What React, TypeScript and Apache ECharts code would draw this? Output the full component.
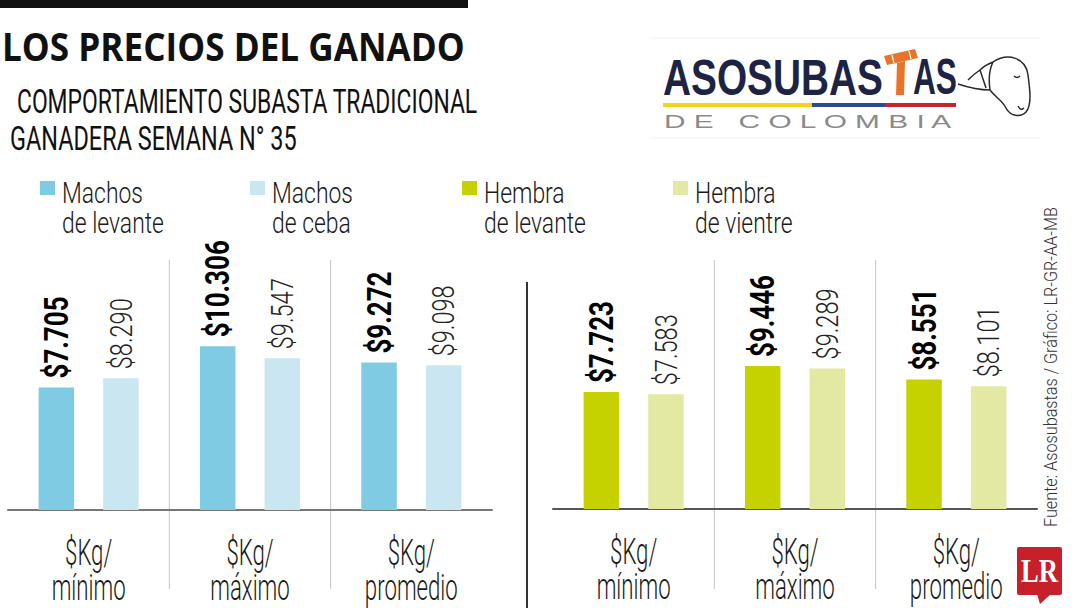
import React, { useEffect, useRef } from "react";
import * as echarts from "echarts";

// ---------- data ----------
const CATEGORIES = ["$Kg/\nmínimo", "$Kg/\nmáximo", "$Kg/\npromedio"];
const MACHOS_LEVANTE = [7705, 10306, 9272];
const MACHOS_CEBA = [8290, 9547, 9098];
const HEMBRA_LEVANTE = [7723, 9446, 8551];
const HEMBRA_VIENTRE = [7583, 9289, 8101];
const SERIES_NAMES = ["Machos de levante", "Machos de ceba", "Hembra de levante", "Hembra de vientre"];
const LEGEND_LINES = [
  ["Machos", "de levante"],
  ["Machos", "de ceba"],
  ["Hembra", "de levante"],
  ["Hembra", "de vientre"],
];
const COLORS = ["#7ecbe3", "#c9e6f1", "#c6d200", "#e3e8a2"];

const TITLE = "LOS PRECIOS DEL GANADO";
const SUBTITLE_1 = "COMPORTAMIENTO SUBASTA TRADICIONAL";
const SUBTITLE_2 = "GANADERA SEMANA N° 35";
const SOURCE = "Fuente: Asosubastas / Gráfico: LR-GR-AA-MB";

// ---------- helpers ----------
const COND = "Roboto, 'Liberation Sans', sans-serif";
const SANS = "'Liberation Sans', Arial, sans-serif";
const HEAD = "'Open Sans', 'Liberation Sans', sans-serif";

const fmt = (v: number) => "$" + String(v).replace(/\B(?=(\d{3})+(?!\d))/g, ".");

function measure(text: string, font: string): number {
  const ctx = document.createElement("canvas").getContext("2d")!;
  ctx.font = font;
  return ctx.measureText(text).width || 1;
}
const fontStr = (size: number, family: string, weight: string | number) => `${weight} ${size}px ${family}`;

function txt(text: string, x: number, y: number, size: number, family: string, weight: string | number, fill: string, scaleX: number, extra: any = {}, align = "left") {
  return {
    type: "text",
    x,
    y,
    scaleX,
    silent: true,
    style: { text, fontSize: size, fontFamily: family, fontWeight: weight, fill, align, verticalAlign: "middle" },
    ...extra,
  };
}
function fitText(text: string, x: number, y: number, width: number, size: number, family: string, weight: string | number, fill: string, extra: any = {}) {
  const w = measure(text, fontStr(size, family, weight));
  return txt(text, x, y, size, family, weight, fill, width / w, extra);
}

// layout
const G0 = { left: 8, width: 484, bottom: 510, height: 254.4 };
const G1 = { left: 553, width: 484, bottom: 509, height: 242.2 };
const Y_MAX = 16000;
const BAR_W = 35.5;
const BAR_GAP = 0.82;

export default function App() {
  const ref = useRef<HTMLDivElement>(null);

  useEffect(() => {
    if (!ref.current) return;
    const chart = echarts.init(ref.current, null, { renderer: "svg" });

    echarts.graphic.registerShape(
      "cowhead",
      echarts.graphic.extendPath(
        "M0 34 C12 38 22 40 32 40 C38 48 44 50 48 58 C52 66 62 68 68 62 C74 55 72 40 70 25 C68 8 50 2 35 12 C30 14 26 16 22 20 C16 24 12 28 10 30 M35 12 C32 18 30 26 32 40 M22 20 C24 26 26 32 28 38 M56 26 C58 28 60 28 62 26 M60 56 C62 60 64 60 66 58",
        {}
      ) as any
    );

    const xAxisBase = (gridIndex: number, lineColor: string) => ({
      type: "category",
      gridIndex,
      data: CATEGORIES,
      axisTick: { show: false },
      axisLine: { lineStyle: { color: lineColor, width: 2 } },
      splitLine: { show: false },
      axisLabel: { show: false },
    });

    const seriesData = [MACHOS_LEVANTE, MACHOS_CEBA, HEMBRA_LEVANTE, HEMBRA_VIENTRE];

    const option: any = {
      animation: false,
      backgroundColor: "#ffffff",
      grid: [
        { left: G0.left, width: G0.width, top: G0.bottom - G0.height, height: G0.height },
        { left: G1.left, width: G1.width, top: G1.bottom - G1.height, height: G1.height },
      ],
      xAxis: [xAxisBase(0, "#777"), xAxisBase(1, "#555")],
      yAxis: [
        { type: "value", gridIndex: 0, min: 0, max: Y_MAX, show: false, splitLine: { show: false } },
        { type: "value", gridIndex: 1, min: 0, max: Y_MAX, show: false, splitLine: { show: false } },
      ],
      series: seriesData.map((d, i) => ({
        name: SERIES_NAMES[i],
        type: "bar",
        xAxisIndex: i < 2 ? 0 : 1,
        yAxisIndex: i < 2 ? 0 : 1,
        data: d,
        barWidth: BAR_W,
        barGap: `${BAR_GAP * 100}%`,
        itemStyle: { color: COLORS[i] },
        label: { show: false },
      })),
    };
    chart.setOption(option);

    // ---- texts placed through the chart's own scales ----
    const BOLD_SIZE = 34;
    const THIN_SIZE = 32;
    const boldScale = 82 / measure("$7.705", fontStr(BOLD_SIZE, COND, 700));
    const thinScale = 71 / measure("$8.290", fontStr(THIN_SIZE, COND, 300));
    const offset = (BAR_W + BAR_W * BAR_GAP) / 2;

    const valueLabels: any[] = [];
    seriesData.forEach((d, i) => {
      const g = i < 2 ? 0 : 1;
      const bold = i % 2 === 0;
      d.forEach((v, j) => {
        const cx = chart.convertToPixel({ xAxisIndex: g } as any, j) as any as number;
        const cy = chart.convertToPixel({ yAxisIndex: g } as any, v) as any as number;
        const x = cx + (bold ? -offset : offset);
        valueLabels.push(
          txt(fmt(v), x, cy - 9, bold ? BOLD_SIZE : THIN_SIZE, COND, bold ? 700 : 300, bold ? "#000" : "#222", bold ? boldScale : thinScale, { rotation: Math.PI / 2 })
        );
      });
    });

    const AX_SIZE = 37;
    const axScale = 74 / measure("mínimo", fontStr(AX_SIZE, COND, 300));
    const axisLabels: any[] = [];
    [0, 1].forEach((g) => {
      CATEGORIES.forEach((c, j) => {
        const cx = chart.convertToPixel({ xAxisIndex: g } as any, j) as any as number;
        const base = chart.convertToPixel({ yAxisIndex: g } as any, 0) as any as number;
        c.split("\n").forEach((line, k) => {
          axisLabels.push(txt(line, cx, base + 42 + k * 35, AX_SIZE, COND, 300, "#1a1a1a", axScale, {}, "center"));
        });
      });
    });

    const dividers: any[] = [];
    [G0, G1].forEach((g) => {
      for (let k = 1; k < CATEGORIES.length; k++) {
        const x = g.left + (g.width * k) / CATEGORIES.length;
        dividers.push({
          type: "line",
          silent: true,
          shape: { x1: x, y1: 260, x2: x, y2: 589 },
          style: { stroke: "#c4c4c4", lineWidth: 1 },
        });
      }
    });

    const LEG_SIZE = 30;
    const legScale = 102 / measure("de levante", fontStr(LEG_SIZE, COND, 300));
    const legendItems: any[] = [];
    const legendX = [40, 250, 462, 673];
    LEGEND_LINES.forEach((lines, i) => {
      legendItems.push({
        type: "rect",
        silent: true,
        shape: { x: legendX[i], y: 181, width: 15, height: 14 },
        style: { fill: COLORS[i] },
      });
      lines.forEach((t, j) => {
        legendItems.push(txt(t, legendX[i] + 22, 192.5 + j * 30, LEG_SIZE, COND, 300, "#1a1a1a", legScale));
      });
    });

    const logo: any[] = [
      { type: "line", silent: true, shape: { x1: 650, y1: 38, x2: 1040, y2: 38 }, style: { stroke: "#f1f1f1", lineWidth: 1 } },
      { type: "line", silent: true, shape: { x1: 650, y1: 138, x2: 1040, y2: 138 }, style: { stroke: "#f1f1f1", lineWidth: 1 } },
      fitText("ASOSUBAS", 663, 77, 220, 50, SANS, "bold", "#1d2443"),
      fitText("AS", 913, 77, 44, 50, SANS, "bold", "#1d2443"),
      { type: "polygon", silent: true, shape: { points: [[884, 56], [915, 49], [918, 58], [887, 65]] }, style: { fill: "#e8742c" } },
      { type: "polygon", silent: true, shape: { points: [[897, 63], [905, 61], [904, 95], [896, 95]] }, style: { fill: "#e8742c" } },
      { type: "line", silent: true, shape: { x1: 892, y1: 55, x2: 894, y2: 63 }, style: { stroke: "#fff", lineWidth: 1.2 } },
      { type: "line", silent: true, shape: { x1: 909, y1: 51, x2: 911, y2: 59 }, style: { stroke: "#fff", lineWidth: 1.2 } },
      { type: "rect", silent: true, shape: { x: 663, y: 103, width: 149, height: 4 }, style: { fill: "#f2d21b" } },
      { type: "rect", silent: true, shape: { x: 812, y: 103, width: 73, height: 4 }, style: { fill: "#2c4a8c" } },
      { type: "rect", silent: true, shape: { x: 885, y: 103, width: 71, height: 4 }, style: { fill: "#c4262e" } },
      fitText("D E   C O L O M B I A", 664, 121, 290, 19, SANS, "normal", "#8a8a8a"),
      {
        type: "cowhead",
        silent: true,
        x: 958,
        y: 50,
        scaleX: 1,
        scaleY: 1,
        style: { fill: "none", stroke: "#2a2a2a", lineWidth: 1.5 },
      },
    ];

    const lr: any[] = [
      { type: "rect", silent: true, shape: { x: 1017, y: 547, width: 45, height: 48, r: 2 }, style: { fill: "#c8202b" } },
      { type: "polygon", silent: true, shape: { points: [[1037, 594], [1051, 594], [1040, 604]] }, style: { fill: "#c8202b" } },
      fitText("LR", 1021, 571, 37, 34, "'Liberation Serif', 'DejaVu Serif', serif", "bold", "#fff"),
    ];

    chart.setOption({
      graphic: [
        { type: "rect", silent: true, shape: { x: 0, y: 0, width: 468, height: 8 }, style: { fill: "#111" } },
        fitText(TITLE, 2, 46, 463, 39, HEAD, "bold", "#111"),
        fitText(SUBTITLE_1, 17, 101, 461, 34, COND, 400, "#111"),
        fitText(SUBTITLE_2, 10, 138, 287, 34, COND, 400, "#111"),
        ...legendItems,
        ...dividers,
        { type: "line", silent: true, shape: { x1: 527, y1: 282, x2: 527, y2: 608 }, style: { stroke: "#333", lineWidth: 2 } },
        ...valueLabels,
        ...axisLabels,
        ...logo,
        ...lr,
        fitText(SOURCE, 1051, 527, 320, 18, COND, 300, "#333", { rotation: Math.PI / 2 }),
      ],
    });

    return () => chart.dispose();
  }, []);

  return (
    <div
      ref={ref}
      style={{ position: "fixed", left: 0, top: 0, width: 1080, height: 608, background: "#fff" }}
    />
  );
}
